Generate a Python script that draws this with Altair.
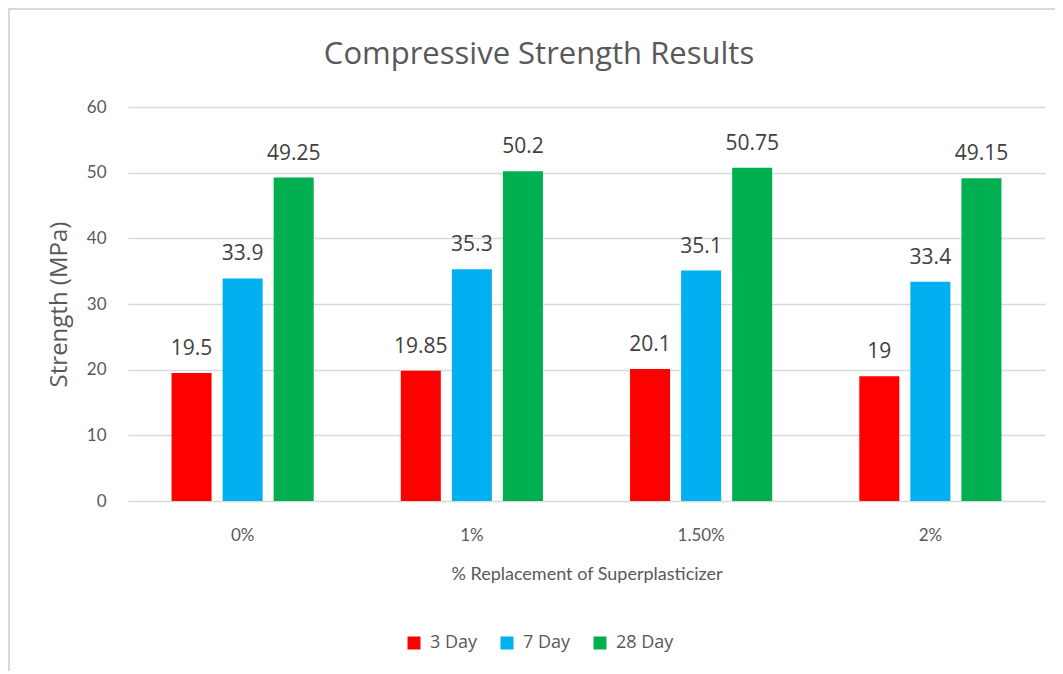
import altair as alt
import pandas as pd

categories = ["0%", "1%", "1.50%", "2%"]
series = ["3 Day", "7 Day", "28 Day"]
day3 = [19.5, 19.85, 20.1, 19]
day7 = [33.9, 35.3, 35.1, 33.4]
day28 = [49.25, 50.2, 50.75, 49.15]
colors = ["#FF0000", "#00B0F0", "#00B050"]
title_text = "Compressive Strength Results"

rows = []
for i, c in enumerate(categories):
    for s, vals in zip(series, [day3, day7, day28]):
        rows.append({"cat": c, "series": s, "value": vals[i], "label": f"{vals[i]:g}"})
df = pd.DataFrame(rows)

x_enc = alt.X("cat:N", sort=categories,
              scale=alt.Scale(paddingInner=0, paddingOuter=0),
              axis=alt.Axis(title="% Replacement of Superplasticizer", labelAngle=0,
                            ticks=False, domain=False, labelPadding=26, titlePadding=22,
                            labelFont="Lato", labelFontSize=17, labelColor="#595959",
                            titleFont="Lato", titleFontSize=18, titleColor="#595959",
                            titleFontWeight="normal"))
xoff = alt.XOffset("series:N", sort=series,
                   scale=alt.Scale(paddingInner=0.216, paddingOuter=0.853))
y_enc = alt.Y("value:Q", scale=alt.Scale(domain=[0, 60]),
              axis=alt.Axis(title="Strength (MPa)", values=[0, 10, 20, 30, 40, 50, 60],
                            ticks=False, domain=False, labelPadding=22, titlePadding=15,
                            gridColor="#D9D9D9", gridWidth=1.3,
                            labelFont="Lato", labelFontSize=17, labelColor="#595959",
                            titleFont="Open Sans", titleFontSize=24, titleColor="#595959",
                            titleFontWeight="normal"))
color_enc = alt.Color("series:N", sort=series,
                      scale=alt.Scale(domain=series, range=colors),
                      legend=alt.Legend(title=None, orient="none", direction="horizontal",
                                        legendX=277, legendY=527, symbolType="square",
                                        symbolSize=169, symbolStrokeWidth=0,
                                        labelFont="Open Sans", labelFontSize=18,
                                        labelColor="#595959", labelOffset=7,
                                        columnPadding=20))

base = alt.Chart(df)
bars = base.mark_bar().encode(x=x_enc, xOffset=xoff, y=y_enc, color=color_enc)
labels = base.mark_text(baseline="middle", dy=-24, font="Open Sans", fontSize=21,
                        color="#404040").encode(
    x=alt.X("cat:N", sort=categories), xOffset=alt.XOffset("series:N", sort=series),
    y="value:Q", text="label:N")

single = pd.DataFrame({"t": [title_text]})
title_mark = alt.Chart(single).mark_text(font="Open Sans", fontSize=31, fontWeight="normal",
                                         color="#595959", baseline="middle",
                                         align="center").encode(
    x=alt.value(411), y=alt.value(-52), text="t:N")
left_border = alt.Chart(single).mark_rect(color="#D9D9D9").encode(
    x=alt.value(-120), x2=alt.value(-118), y=alt.value(-99), y2=alt.value(580))
top_border = alt.Chart(single).mark_rect(color="#D9D9D9").encode(
    x=alt.value(-120), x2=alt.value(935), y=alt.value(-99), y2=alt.value(-97))

chart = alt.layer(bars, labels, title_mark, left_border, top_border).properties(
    width=917, height=394,
    autosize=alt.AutoSizeParams(type="none"),
    padding={"left": 120, "top": 99, "right": 10, "bottom": 170},
).configure(background="white").configure_view(stroke=None)

chart.save("out.html", embed_options={"renderer": "svg", "actions": False})
